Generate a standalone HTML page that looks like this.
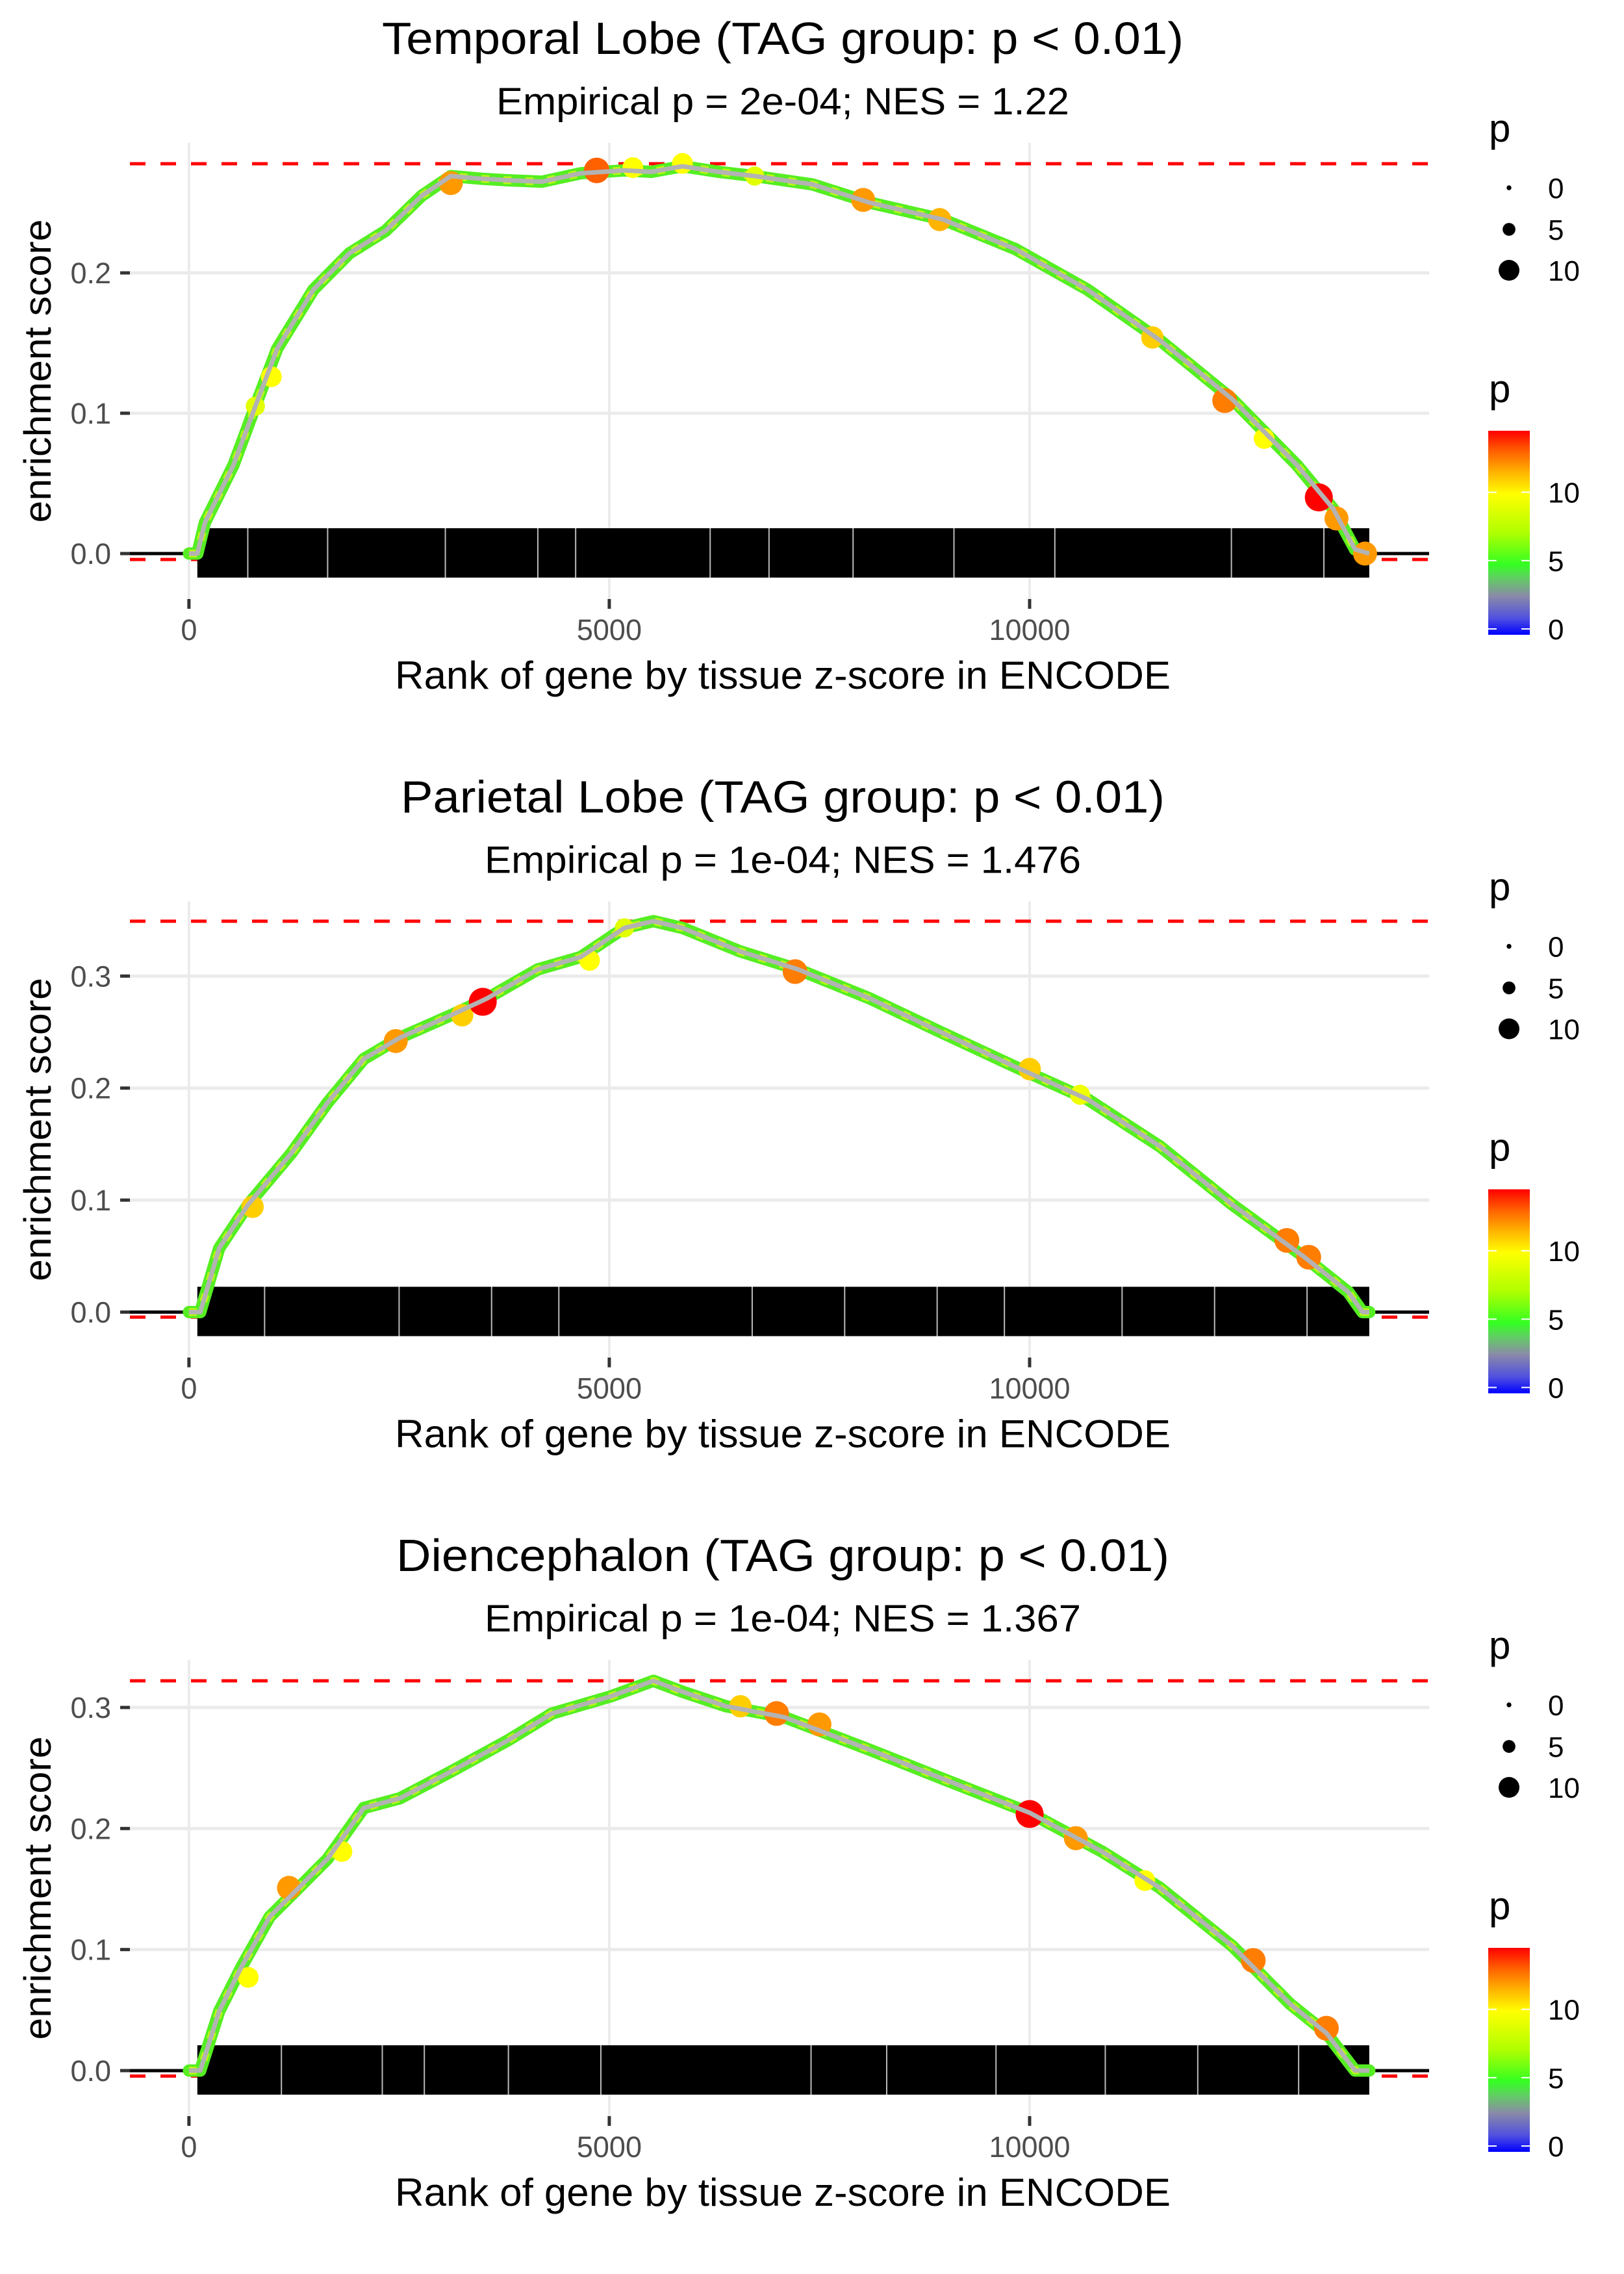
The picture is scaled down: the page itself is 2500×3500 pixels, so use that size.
<!DOCTYPE html>
<html><head><meta charset="utf-8"><style>
html,body{margin:0;padding:0;background:#fff}
svg{display:block}
text{font-family:"Liberation Sans",Arial,sans-serif}
</style></head><body>
<svg id="chart" width="2500" height="3500" viewBox="0 0 2500 3500" xmlns="http://www.w3.org/2000/svg">
<defs>
<linearGradient id="pgrad" x1="0" y1="1" x2="0" y2="0">
<stop offset="0" stop-color="#0000ff"/>
<stop offset="0.08" stop-color="#5050e0"/>
<stop offset="0.19" stop-color="#8a8aa8"/>
<stop offset="0.28" stop-color="#60d060"/>
<stop offset="0.345" stop-color="#33ff22"/>
<stop offset="0.5" stop-color="#b0ff00"/>
<stop offset="0.69" stop-color="#ffff00"/>
<stop offset="0.8" stop-color="#ffb000"/>
<stop offset="0.9" stop-color="#ff6000"/>
<stop offset="1" stop-color="#ff0000"/>
</linearGradient>
</defs>
</svg>
<script>
// ---- data ----
const panelTitles = ["Temporal Lobe (TAG group: p < 0.01)","Parietal Lobe (TAG group: p < 0.01)","Diencephalon (TAG group: p < 0.01)"];
const panelSubtitles = ["Empirical p = 2e-04; NES = 1.22","Empirical p = 1e-04; NES = 1.476","Empirical p = 1e-04; NES = 1.367"];
const maxES = [0.2778, 0.349, 0.322];
const minES = [-0.0042, -0.0045, -0.0045];
const yDomainMin = [-0.0324, -0.0406, -0.0376];
const yDomainMax = [0.2926, 0.3666, 0.3392];
const yTicks = [[0.0,0.1,0.2],[0.0,0.1,0.2,0.3],[0.0,0.1,0.2,0.3]];
const yTickLabels = [["0.0","0.1","0.2"],["0.0","0.1","0.2","0.3"],["0.0","0.1","0.2","0.3"]];
const xTicks = [0,5000,10000];
const xTickLabels = ["0","5000","10000"];
const rugStart = [100,100,100];
const rugEnd = [14040,14040,14040];
const rugGaps = [[700,1650,3050,4150,4600,6200,6900,7900,9100,10300,12400,13500],[900,2500,3600,4400,6700,7800,8900,9700,11100,12200,13300],[1100,2300,2800,3800,4900,7400,8300,9600,10900,12000,13200]];
// curve ranks and ES values
const curveRanks1 = [0,100,190,530,790,1050,1480,1910,2340,2770,3115,3500,3800,4200,4660,5180,5500,5870,6300,6730,7420,8100,8970,9830,10690,11550,12410,13180,13610,13870,14040];
const curveES1 = [0,0.0,0.022,0.063,0.105,0.146,0.188,0.214,0.23,0.255,0.269,0.267,0.266,0.265,0.271,0.273,0.272,0.276,0.272,0.269,0.263,0.25,0.238,0.217,0.188,0.152,0.11,0.063,0.032,0.003,0];
const curveRanks2 = [0,135,360,705,1220,1650,2080,2510,3115,3545,4150,4660,5180,5525,5870,6560,7245,8100,8970,9830,10690,11550,12410,13270,13790,13960,14040];
const curveES2 = [0,0.0,0.057,0.096,0.142,0.187,0.226,0.245,0.265,0.28,0.306,0.317,0.343,0.349,0.343,0.322,0.306,0.28,0.249,0.219,0.19,0.148,0.096,0.049,0.018,0.0,0];
const curveRanks3 = [0,135,360,620,960,1220,1650,2080,2510,3115,3800,4320,5010,5525,5870,6390,7080,8100,8970,10000,10860,11550,12410,13100,13530,13870,14040];
const curveES3 = [0,0.0,0.049,0.085,0.127,0.145,0.175,0.217,0.225,0.247,0.273,0.295,0.309,0.322,0.313,0.301,0.292,0.265,0.241,0.213,0.181,0.151,0.103,0.055,0.031,0.0,0];
// highlighted points: rank, ES, p
const dotRanks1 = [790,980,3115,4850,5280,5870,6730,8020,8930,11460,12320,12790,13440,13650,13990];
const dotES1 = [0.105,0.126,0.264,0.273,0.275,0.278,0.269,0.252,0.238,0.154,0.109,0.082,0.040,0.025,0.0];
const dotP1 = [9,10,12,13,10,10,9,12,11.5,11,12.5,10,14.5,12,12];
const dotRanks2 = [757,2460,3250,3495,4765,5180,7210,10000,10600,13060,13320];
const dotES2 = [0.094,0.242,0.265,0.277,0.314,0.343,0.304,0.217,0.194,0.064,0.049];
const dotP2 = [11,12,11,14.5,10,9,12.5,11,9.5,12.5,12.5];
const dotRanks3 = [705,1190,1820,6560,6990,7500,10000,10550,11370,12660,13530];
const dotES3 = [0.077,0.151,0.181,0.301,0.295,0.286,0.212,0.192,0.157,0.091,0.035];
const dotP3 = [10,12,10,11,12.5,12,14.5,12,10,12.5,12.5];
const sizeLegendValues = [0,5,10];
const colorLegendValues = [0,5,10];
const colorMaxP = 14.5;

const curveRanks=[curveRanks1,curveRanks2,curveRanks3], curveES=[curveES1,curveES2,curveES3];
const dotRanks=[dotRanks1,dotRanks2,dotRanks3], dotES=[dotES1,dotES2,dotES3], dotP=[dotP1,dotP2,dotP3];
const titleWidths=[1234,1176,1190];

// ---- layout ----
const NS="http://www.w3.org/2000/svg";
const svg=document.getElementById('chart');
const PANEL_STEP=1167.5, PLEFT=200, PRIGHT=2200, PTOP=220, PBOT=922;
const XMIN=-702, XMAX=14752;
function mk(tag,attrs,parent){const e=document.createElementNS(NS,tag);for(const k in attrs)e.setAttribute(k,attrs[k]);(parent||svg).appendChild(e);return e;}
function pColor(p){
  const stops=[[0,[0,0,255]],[1.2,[80,80,224]],[2.8,[138,138,168]],[4,[96,208,96]],[5,[51,255,34]],[7.3,[176,255,0]],[10,[255,255,0]],[11.6,[255,176,0]],[13,[255,96,0]],[14.5,[255,0,0]]];
  p=Math.max(0,Math.min(14.5,p));
  for(let i=1;i<stops.length;i++){if(p<=stops[i][0]){const a=stops[i-1],b=stops[i],t=(p-a[0])/(b[0]-a[0]);const c=a[1].map((v,j)=>Math.round(v+(b[1][j]-v)*t));return `rgb(${c[0]},${c[1]},${c[2]})`;}}
  return 'rgb(255,0,0)';
}
function pRadius(p){return 3.7+1.23*p;}

for(let i=0;i<3;i++){
  const off=i*PANEL_STEP;
  const top=PTOP+off, bot=PBOT+off;
  const xs=r=>PLEFT+(r-XMIN)/(XMAX-XMIN)*(PRIGHT-PLEFT);
  const ys=v=>bot-(v-yDomainMin[i])/(yDomainMax[i]-yDomainMin[i])*(bot-top);
  const g=mk('g',{});
  
  

  yTicks[i].forEach((t,k)=>{
    const l=mk('line',{x1:PLEFT,x2:PRIGHT,y1:ys(t),y2:ys(t),stroke:'#ebebeb','stroke-width':5},g);
    
    
  });
  xTicks.forEach(t=>{
    const l=mk('line',{x1:xs(t),x2:xs(t),y1:top,y2:bot,stroke:'#ebebeb','stroke-width':4},g);
    
    
  });

  const tt=mk('text',{x:1205,y:83+off,'text-anchor':'middle','font-size':70,fill:'#000',textLength:titleWidths[i],lengthAdjust:'spacingAndGlyphs'},g);
  tt.textContent=panelTitles[i];
  
  
  const st=mk('text',{x:1205,y:176+off,'text-anchor':'middle','font-size':58,fill:'#000',textLength:(i==0?882:918),lengthAdjust:'spacingAndGlyphs'},g);
  st.textContent=panelSubtitles[i];
  
  

  const z=mk('line',{x1:PLEFT,x2:PRIGHT,y1:ys(0),y2:ys(0),stroke:'#000','stroke-width':5},g);
  
  
  [maxES[i],minES[i]].forEach((v,k)=>{
    const d=mk('line',{x1:PLEFT,x2:PRIGHT,y1:ys(v),y2:ys(v),stroke:'#ff0000','stroke-width':5,'stroke-dasharray':'24 23'},g);
    
    
  });

  const z0=ys(0);
  const rug=mk('rect',{x:xs(rugStart[i]),y:z0-39,width:xs(rugEnd[i])-xs(rugStart[i]),height:76,fill:'#000'},g);
  
  
  rugGaps[i].forEach(r=>{
    const gl=mk('line',{x1:xs(r),x2:xs(r),y1:z0-39,y2:z0+37,stroke:'#bbbbbb','stroke-width':2},g);
    
    
  });

  const pts=curveRanks[i].map((r,k)=>xs(r).toFixed(1)+','+ys(curveES[i][k]).toFixed(1)).join(' ');
  const band=mk('polyline',{points:pts,fill:'none',stroke:'#55ee22','stroke-width':19,'stroke-linejoin':'round','stroke-linecap':'round'},g);
  
  
  const band2=mk('polyline',{points:pts,fill:'none',stroke:'#b8f810','stroke-width':12,'stroke-linejoin':'round','stroke-dasharray':'12 22'},g);
  
  
  dotRanks[i].forEach((r,k)=>{
    const c=mk('circle',{cx:xs(r),cy:ys(dotES[i][k]),r:pRadius(dotP[i][k]),fill:pColor(dotP[i][k])},g);
    
    
  });
  const ln=mk('polyline',{points:pts,fill:'none',stroke:'#b3b3b3','stroke-width':7,'stroke-linejoin':'round'},g);
  
  

  yTicks[i].forEach((t,k)=>{
    const tk=mk('line',{x1:185,x2:200,y1:ys(t),y2:ys(t),stroke:'#333','stroke-width':5},g);
    
    
    const lb=mk('text',{x:171,y:ys(t)+16,'text-anchor':'end','font-size':45,fill:'#4d4d4d'},g);
    lb.textContent=yTickLabels[i][k];
    
    
  });
  xTicks.forEach((t,k)=>{
    const tk=mk('line',{x1:xs(t),x2:xs(t),y1:bot,y2:bot+15,stroke:'#333','stroke-width':5},g);
    
    
    const lb=mk('text',{x:xs(t),y:985+off,'text-anchor':'middle','font-size':45,fill:'#4d4d4d'},g);
    lb.textContent=xTickLabels[k];
    
    
  });
  const xt=mk('text',{x:1205,y:1060+off,'text-anchor':'middle','font-size':60,fill:'#000',textLength:1194,lengthAdjust:'spacingAndGlyphs'},g);
  xt.textContent='Rank of gene by tissue z-score in ENCODE';
  
  
  const yt=mk('text',{x:0,y:0,'text-anchor':'middle','font-size':58,fill:'#000',textLength:467,lengthAdjust:'spacingAndGlyphs',transform:`translate(78,${571+off}) rotate(-90)`},g);
  yt.textContent='enrichment score';
  
  

  const sl=mk('g',{},g);
  
  
  const sp=mk('text',{x:2292,y:218+off,'font-size':60,fill:'#000'},sl);
  sp.textContent='p';
  
  
  const sy=[289,353,416];
  sizeLegendValues.forEach((v,k)=>{
    const c=mk('circle',{cx:2323,cy:sy[k]+off,r:pRadius(v)},sl);
    
    
    const t=mk('text',{x:2383,y:sy[k]+off+16,'font-size':44,fill:'#000'},sl);
    t.textContent=String(v);
    
    
  });

  const cl=mk('g',{},g);
  
  
  const cp=mk('text',{x:2292,y:619+off,'font-size':60,fill:'#000'},cl);
  cp.textContent='p';
  
  
  const cbTop=663+off, cbBot=977+off;
  const cv=v=>968+off-(v/ (colorMaxP))*(968-663);
  const cb=mk('rect',{x:2291,y:cbTop,width:64,height:cbBot-cbTop,fill:'url(#pgrad)'},cl);
  
  
  colorLegendValues.forEach(v=>{
    const y=cv(v);
    const a=mk('line',{x1:2291,x2:2304,y1:y,y2:y,stroke:'#fff','stroke-width':2},cl);
    
    
    const b=mk('line',{x1:2342,x2:2355,y1:y,y2:y,stroke:'#fff','stroke-width':2},cl);
    
    
    const t=mk('text',{x:2383,y:y+16,'font-size':44,fill:'#000'},cl);
    t.textContent=String(v);
    
    
  });
}
</script>
</body></html>
